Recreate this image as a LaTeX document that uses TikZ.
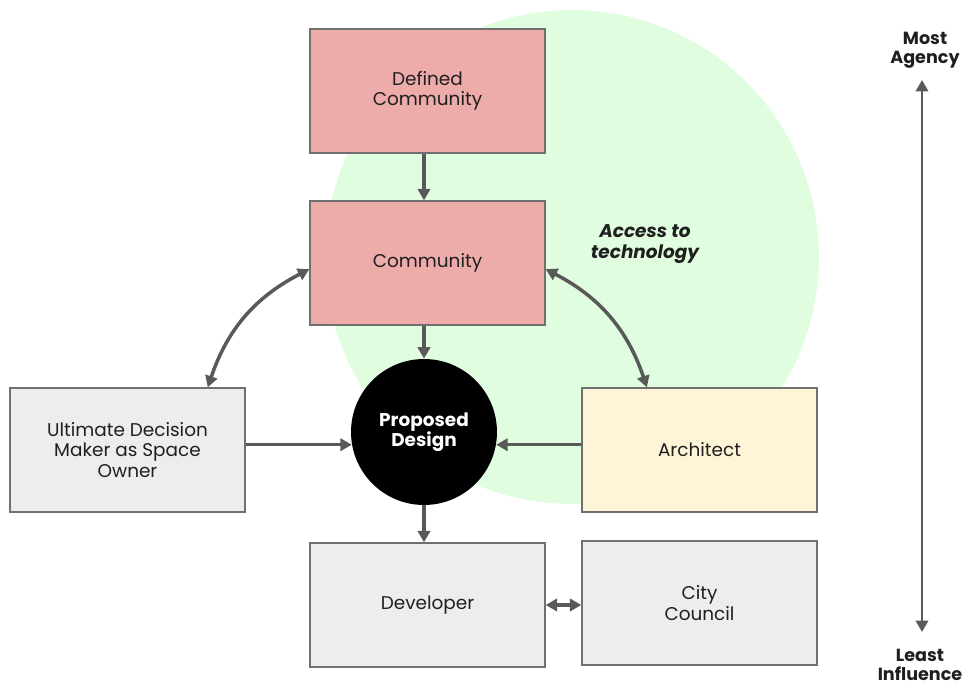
\documentclass[tikz,border=0pt]{standalone}
\usepackage{fontspec}
\setmainfont{Poppins}
\usepackage{tikz}
\usetikzlibrary{arrows.meta, positioning, calc}
\usepackage{xcolor}
\definecolor{agPink}  {HTML}{EDABAA}
\definecolor{agGray}  {HTML}{EDEDED}
\definecolor{agCream} {HTML}{FEF4D7}
\definecolor{agGreen} {HTML}{E0FDE0}
\definecolor{agLine}  {HTML}{707070}
\definecolor{agArrow} {HTML}{595959}
\definecolor{agText}  {HTML}{1F1F1F}
\tikzset{
  block/.style  = {rectangle, draw=agLine, line width=0.8pt, fill=agGray,
                   minimum width=4.7cm, minimum height=2.48cm, align=center,
                   text=agText, font=\fontsize{10.5}{11.6}\selectfont},
  pblock/.style = {block, fill=agPink},
  cblock/.style = {block, fill=agCream},
  hub/.style    = {circle, fill=black, minimum size=2.92cm, inner sep=0pt,
                   align=center, text=white,
                   font=\bfseries\fontsize{10.5}{11.6}\selectfont},
  axislabel/.style = {align=center, text=agText,
                   font=\bfseries\fontsize{10}{11}\selectfont},
  arrow/.style  = {-{Triangle[length=6.5pt, width=7pt]}, line width=2pt,
                   color=agArrow},
  biarrow/.style= {{Triangle[length=6.5pt, width=7pt]}-{Triangle[length=6.5pt, width=7pt]},
                   line width=2pt, color=agArrow},
}

\begin{document}
\begin{tikzpicture}[x=0.02cm, y=-0.02cm]
    \useasboundingbox (0,0) rectangle (964,685);
    \fill[agGreen] (572,257) circle[radius=4.94cm];
    \node[font=\bfseries\itshape\fontsize{10.5}{11.6}\selectfont, align=center,
      text=agText] (tech) at (645,244) {Access to\\technology};

    \node[pblock] (defcomm) at (427.5,91)  {Defined\\Community};
    \node[pblock] (comm)    at (427.5,263) {Community};
    \node[block]  (owner)   at (127.5,450) {Ultimate Decision\\Maker as Space\\Owner};
    \node[cblock] (arch)    at (699.5,450) {Architect};
    \node[block]  (dev)     at (427.5,605) {Developer};
    \node[block]  (council) at (699.5,603) {City\\Council};
    \node[hub]    (design)  at (424,432)   {Proposed\\Design};

    \draw[arrow] (defcomm.south -| design) -- (comm.north -| design);
    \draw[arrow] (comm.south -| design) -- (design.north);
    \draw[arrow] (owner.east |- design.190) -- (design.190);
    \draw[arrow] (arch.west |- design.350) -- (design.350);
    \draw[arrow] (design.south) -- (dev.north -| design);
    \draw[biarrow] (dev.east) -- (dev.east -| council.west);
    \draw[biarrow] (comm.183) to[bend right=22] (owner.38);
    \draw[biarrow] (comm.357) to[bend left=22] (arch.130);

    \node[axislabel] (most)  at (925,50)  {Most\\Agency};
    \node[axislabel] (least) at (920,665) {Least\\Influence};
    \coordinate (mtop) at (922,80);
    \coordinate (mbot) at (922,632);
    \draw[biarrow, line width=1.6pt] (mtop) -- (mbot);
\end{tikzpicture}
\end{document}
